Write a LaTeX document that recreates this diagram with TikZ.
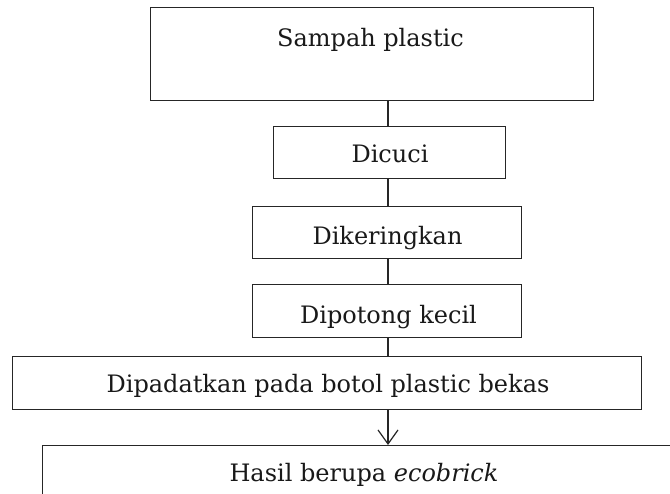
\documentclass[tikz,border=0pt]{standalone}
\usepackage{fontspec}
\setmainfont{DejaVu Serif}
\usetikzlibrary{arrows.meta}
\begin{document}
\begin{tikzpicture}[x=1pt,y=-1pt,
  box/.style={draw=black!85,line width=1.3pt,inner sep=0pt,anchor=north west},
  lbl/.style={anchor=base,inner sep=0pt,text=black!90,font=\fontsize{24}{28}\selectfont},
  link/.style={draw=black!85,line width=1.2pt}]
\clip (0,0) rectangle (670,494);
\fill[white] (0,0) rectangle (670,494);
% boxes
\node[box,minimum width=443pt,minimum height=93pt] (b1) at (150,7) {};
\node[box,minimum width=232pt,minimum height=52pt] (b2) at (273,126) {};
\node[box,minimum width=269pt,minimum height=52pt] (b3) at (252,206) {};
\node[box,minimum width=269pt,minimum height=53pt] (b4) at (252,284) {};
\node[box,minimum width=629pt,minimum height=53pt] (b5) at (12,356) {};
\node[box,minimum width=700pt,minimum height=100pt] (b6) at (42,445) {};
% labels
\node[lbl] (t1) at (370.5,47) {Sampah plastic};
\node[lbl] (t2) at (390,163) {Dicuci};
\node[lbl] (t3) at (387.5,245) {Dikeringkan};
\node[lbl] (t4) at (388.5,324) {Dipotong kecil};
\node[lbl] (t5) at (328,393) {Dipadatkan pada botol plastic bekas};
\node[lbl] (t6) at (364,482) {Hasil berupa \textit{ecobrick}};
% connectors
\coordinate (axis) at (388,0);
\draw[link] (b1.south -| axis) -- (b2.north -| axis);
\draw[link] (b2.south -| axis) -- (b3.north -| axis);
\draw[link] (b3.south -| axis) -- (b4.north -| axis);
\draw[link] (b4.south -| axis) -- (b5.north -| axis);
\draw[link,-{Straight Barb[length=14pt,width=20pt,line width=1.2pt]}] (b5.south -| axis) -- (b6.north -| axis);
\end{tikzpicture}
\end{document}
